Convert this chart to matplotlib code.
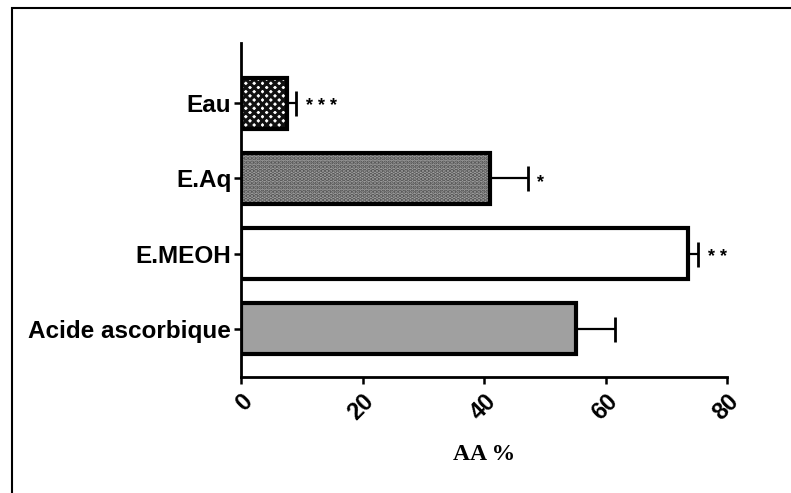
import matplotlib
matplotlib.use("Agg")
import matplotlib.pyplot as plt
from matplotlib.patches import Rectangle

labels = ["Acide ascorbique", "E.MEOH", "E.Aq", "Eau"]
values = [55.2, 73.6, 41.0, 7.6]
errors = [6.3, 1.7, 6.2, 1.5]
stars = ["", "* *", "*", "* * *"]
x_ticks = [0, 20, 40, 60, 80]

faces = ["#a0a0a0", "white", "#a2a2a2", "white"]
hatches = [None, None, "....", "xxxx"]
hatch_colors = ["black", "black", "#505050", "#111111"]

fig = plt.figure(figsize=(7.91, 4.93), dpi=100)
# outer frame (only left/top edges visible in the original crop)
fig.add_artist(Rectangle((12 / 791, -0.1), 1.2, 1 - 8 / 493 + 0.1,
                         transform=fig.transFigure, fill=False,
                         edgecolor="black", linewidth=1.5))

ax = fig.add_axes([241 / 791, 1 - 377 / 493, 486 / 791, 334 / 493])
pos = list(range(len(labels)))

plt.rcParams["hatch.linewidth"] = 2.2
for i in pos:
    # hatch layer then solid outline
    ax.barh(i, values[i], height=0.68, color=faces[i], hatch=hatches[i],
            edgecolor=hatch_colors[i], linewidth=0)
    ax.barh(i, values[i], height=0.68, fill=False, edgecolor="black",
            linewidth=3)

ax.errorbar(values, pos, xerr=[[0] * len(errors), errors], fmt="none",
            ecolor="black", elinewidth=1.6, capsize=9, capthick=2)

for i in pos:
    if stars[i]:
        ax.text(values[i] + errors[i] + 1.6, i - 0.05, stars[i],
                ha="left", va="center", fontsize=13, fontweight="bold",
                family="Liberation Sans")

ax.set_xlim(0, 80)
ax.set_ylim(-0.64, 3.8)
ax.set_xticks(x_ticks)
ax.set_xticklabels([str(t) for t in x_ticks], rotation=45, ha="right",
                   va="top", rotation_mode="anchor", fontsize=17,
                   fontweight="bold", family="Liberation Sans")
ax.set_yticks(pos)
ax.set_yticklabels(labels, fontsize=17.5, fontweight="bold",
                   family="Liberation Sans")
ax.tick_params(axis="both", length=5, width=1.8, color="black")
ax.tick_params(axis="x", pad=4)
ax.tick_params(axis="y", pad=2)

for side in ["top", "right"]:
    ax.spines[side].set_visible(False)
for side in ["left", "bottom"]:
    ax.spines[side].set_linewidth(2)

ax.set_xlabel("AA %", fontsize=17, fontweight="bold",
              family="Liberation Serif", labelpad=14)

fig.savefig("out.png", dpi=100)
